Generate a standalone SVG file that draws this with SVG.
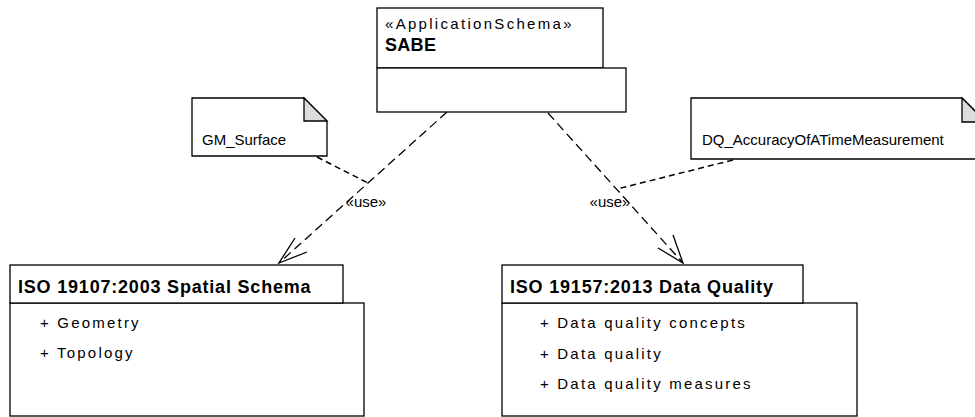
<svg xmlns="http://www.w3.org/2000/svg" width="975" height="417" viewBox="0 0 975 417">
<style>
.box{fill:#fff;stroke:#000;stroke-width:1.3}
.fold{fill:#ddd;stroke:#000;stroke-width:1.3;stroke-linejoin:miter}
.t{font-family:"Liberation Sans",Arial,sans-serif;fill:#000}
.item{font-size:15px;letter-spacing:2.2px}
.title{font-size:18px;font-weight:bold;letter-spacing:0.8px}
.stereo{font-size:15px;letter-spacing:2.3px}
.note{font-size:15px}
.dep{fill:none;stroke:#000;stroke-width:1.3;stroke-dasharray:9 5}
.nl{fill:none;stroke:#000;stroke-width:1.5;stroke-dasharray:6 4}
.head{fill:none;stroke:#000;stroke-width:1.3}
</style>
<rect width="975" height="417" fill="#fff"/>
<g id="connectors">
  <path class="dep" d="M447,112 L279,263"/>
  <path class="head" d="M295,238 L279,263 L307,252"/>
  <path class="dep" d="M548,113 L683,263"/>
  <path class="head" d="M658,248 L683,263 L673,235"/>
  <path class="nl" d="M317,157 L368,183"/>
  <path class="nl" d="M733,160 L617,189"/>
  <text class="t note" x="366" y="207" text-anchor="middle">«use»</text>
  <text class="t note" x="610" y="207" text-anchor="middle">«use»</text>
</g>
<g id="SABE">
  <rect class="box" x="377" y="8" width="226" height="60"/>
  <rect class="box" x="377" y="68" width="249" height="44"/>
  <text class="t stereo" x="385" y="29">«ApplicationSchema»</text>
  <text class="t title" x="385" y="51" style="letter-spacing:0.3px">SABE</text>
</g>
<g id="GM_Surface">
  <path class="box" d="M192,98 H304 L327,121 V156 H192 Z"/>
  <path class="fold" d="M304,98 V121 H327 Z"/>
  <text class="t note" x="202" y="145">GM_Surface</text>
</g>
<g id="DQ_AccuracyOfATimeMeasurement">
  <path class="box" d="M691,98 H962 L986,122 V159 H691 Z"/>
  <path class="fold" d="M962,98 V122 H986 Z"/>
  <text class="t note" x="702" y="145">DQ_AccuracyOfATimeMeasurement</text>
</g>
<g id="ISO19107">
  <rect class="box" x="10" y="303" width="354" height="113"/>
  <rect class="box" x="10" y="265" width="333" height="38"/>
  <text class="t title" x="18" y="293">ISO 19107:2003 Spatial Schema</text>
  <text class="t item" x="40" y="328">+ Geometry</text>
  <text class="t item" x="40" y="358">+ Topology</text>
</g>
<g id="ISO19157">
  <rect class="box" x="502" y="303" width="355" height="113"/>
  <rect class="box" x="502" y="265" width="301" height="38"/>
  <text class="t title" x="510" y="293">ISO 19157:2013 Data Quality</text>
  <text class="t item" x="540" y="328">+ Data quality concepts</text>
  <text class="t item" x="540" y="359">+ Data quality</text>
  <text class="t item" x="540" y="389">+ Data quality measures</text>
</g>
</svg>
